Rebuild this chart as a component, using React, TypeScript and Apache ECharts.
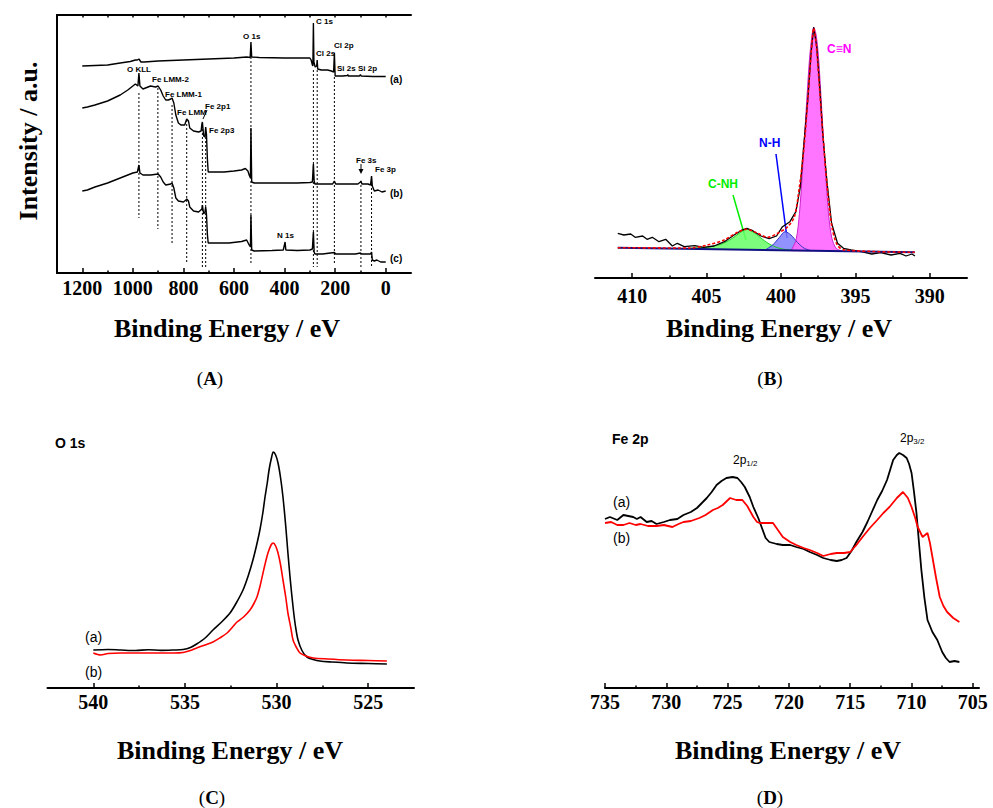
import React, { useEffect, useRef } from "react";
import * as echarts from "echarts";

// ---------- Panel A: survey spectra ----------
const surveyCurveA: number[][] = [
  [1200, 207], [1150, 207.5], [1100, 208], [1050, 210], [1010, 211.5], [990, 213], [982, 213],
  [976, 214], [968, 211], [955, 211], [900, 212], [800, 213], [700, 214], [600, 215], [550, 216],
  [536, 215.5], [533, 231], [530, 216], [500, 215.5], [400, 215], [300, 215], [295, 213],
  [290, 208], [288, 207], [286, 250], [284, 211], [279, 206], [273, 207], [271, 213], [269, 204],
  [255, 203], [230, 203], [215, 202], [206, 201], [203, 220], [200, 197], [170, 197], [152, 197.5],
  [150, 198.5], [148, 197], [103, 197], [100, 198.5], [97, 197], [50, 196.5], [0, 196.5],
];
const surveyCurveB: number[][] = [
  [1200, 165], [1180, 166], [1150, 168], [1100, 172], [1050, 178], [1020, 183], [1000, 187],
  [990, 189], [980, 187], [976, 200], [972, 187], [960, 184], [950, 185], [930, 187], [910, 186],
  [900, 187], [890, 183], [880, 177], [870, 173], [860, 173], [850, 174], [845, 175], [838, 170],
  [830, 158], [820, 150], [810, 148], [795, 148], [787, 154], [780, 152], [775, 145], [760, 142],
  [740, 141], [730, 142], [727, 149], [725, 151], [720, 137], [715, 136], [712, 146], [709, 139],
  [705, 113], [702, 101], [680, 101], [640, 101], [600, 102], [570, 103], [555, 104.5], [545, 102],
  [540, 98], [535, 95], [533, 145], [530, 91], [520, 90], [450, 90], [350, 90], [300, 90.5],
  [290, 91], [286, 109], [283, 92], [280, 89], [250, 89], [210, 89], [203, 92], [198, 89],
  [150, 89], [110, 89], [100, 91], [98, 92], [94, 89], [70, 89], [60, 88], [56, 97], [53, 87],
  [45, 82], [30, 83], [15, 81], [0, 82],
];
const surveyCurveC: number[][] = [
  [1200, 82], [1180, 83], [1150, 86], [1100, 90], [1050, 95], [1000, 100], [982, 101], [976, 108],
  [972, 100], [960, 98], [930, 98], [900, 99], [890, 96], [880, 91], [870, 88], [850, 89],
  [845, 90], [838, 85], [830, 75], [820, 72], [800, 71], [790, 73], [787, 74], [780, 72],
  [775, 66], [760, 62], [740, 61], [727, 64], [725, 68], [720, 59], [715, 61], [712, 66],
  [709, 59], [705, 38], [702, 30], [680, 30], [620, 30], [570, 31.5], [550, 33], [540, 28],
  [535, 26], [533, 58], [530, 23], [520, 22], [450, 22.5], [405, 23], [398, 31], [395, 23],
  [350, 22.5], [300, 23], [290, 24], [286, 41], [283, 21], [280, 19], [250, 19], [203, 20.5],
  [198, 19], [120, 19], [100, 20], [98, 20], [94, 19], [60, 19], [56, 21], [53, 13], [45, 12],
  [35, 13], [20, 11], [0, 11],
];
// [energy, top intensity, bottom intensity]
const surveyDropLines: number[][] = [
  [976, 180, 55], [901, 185, 44], [845, 168, 28], [787, 153, 10], [725, 148, 6], [712, 140, 6],
  [533, 216, 10], [286, 203, 6], [271, 203, 6], [203, 196, 10], [98, 88, 6], [56, 93, 6],
];
const surveyTicks = [0, 200, 400, 600, 800, 1000, 1200];
const surveyMinorTicks = [100, 300, 500, 700, 900, 1100];
const surveyTopTicks = [0, 100, 200, 300, 400, 500, 600, 700, 800, 900, 1000, 1100, 1200];

// ---------- Panel B: N 1s ----------
const n1sRaw: number[][] = [
  [410.97, 44.7], [410.56, 43], [410.1, 44], [409.8, 40.7], [409.3, 42], [409.0, 38.7],
  [408.65, 40.7], [408.2, 36.3], [407.75, 38.7], [407.3, 32], [406.97, 34.7], [406.5, 31.3],
  [405.8, 32.3], [405.2, 30.7], [404.5, 32], [403.8, 36.3], [403.15, 43], [402.7, 47.3],
  [402.3, 49.7], [401.9, 47.3], [401.35, 42], [400.8, 39.3], [400.3, 42], [399.9, 51.3],
  [399.4, 56.3], [399.0, 66.3], [398.7, 91.3], [398.5, 128], [398.2, 178], [397.98, 224.7],
  [397.8, 250.7], [397.6, 231.3], [397.4, 191.3], [397.2, 144.7], [396.9, 94.7], [396.6, 54.7],
  [396.2, 34.7], [395.8, 29.7], [395.3, 28], [394.6, 26.3], [393.9, 24], [393.3, 25.3],
  [392.6, 23], [392.0, 24.7], [391.6, 22], [391.2, 24], [391.0, 22],
];
const n1sEnvelope: number[][] = [
  [410.97, 30.3], [406.07, 30], [404.94, 33], [403.82, 38], [402.92, 45.7], [402.31, 48.7],
  [401.57, 44.7], [400.9, 40.7], [400.22, 44.7], [399.55, 51.3], [399.1, 61.3], [398.76, 91.3],
  [398.47, 128], [398.2, 178], [397.98, 223], [397.8, 249.7], [397.62, 231.3], [397.42, 191.3],
  [397.19, 144.7], [396.9, 91.3], [396.58, 51.3], [396.22, 33], [395.73, 28], [391.01, 25.7],
];
const n1sBaseline: number[][] = [[410.97, 30.3], [391.01, 25.7]];
const n1sCNH: number[][] = [
  [406.07, 30], [404.94, 31], [404.04, 33.7], [403.37, 38.7], [402.81, 44.7], [402.31, 48.7],
  [401.8, 45.3], [401.24, 38.7], [400.67, 33], [400.0, 29.3], [399.33, 28],
];
const n1sNH: number[][] = [
  [401.0, 28.7], [400.56, 33], [400.1, 40.7], [399.73, 46.3], [399.33, 43], [398.88, 35.3],
  [398.43, 29.7], [397.98, 27.3],
];
const n1sCN: number[][] = [
  [399.33, 27.3], [398.99, 38], [398.76, 64.7], [398.54, 111.3], [398.31, 168], [398.09, 218],
  [397.93, 241.3], [397.8, 250.7], [397.64, 243], [397.48, 221.3], [397.26, 168], [397.03, 111.3],
  [396.81, 64.7], [396.58, 39.7], [396.29, 29.7], [395.84, 26.7],
];
const n1sTicks = [390, 395, 400, 405, 410];
const n1sMinorTicks = [392.5, 397.5, 402.5, 407.5];

// ---------- Panel C: O 1s ----------
const o1sA: number[][] = [
  [540, 38], [539.2, 38.5], [538.5, 38], [537.7, 37.5], [537.0, 38.3], [536.3, 37.6], [535.6, 38],
  [535.1, 38.5], [534.7, 40.5], [534.36, 44], [533.9, 50], [533.47, 58], [533.0, 66], [532.54, 75],
  [532.2, 85], [531.83, 98], [531.55, 112], [531.29, 128], [531.1, 142], [530.91, 158], [530.75, 175],
  [530.63, 191], [530.5, 206], [530.41, 218], [530.28, 230], [530.18, 236], [530.05, 233],
  [529.92, 225], [529.78, 210], [529.65, 191], [529.5, 162], [529.38, 135], [529.25, 108],
  [529.1, 81], [528.97, 62], [528.83, 48], [528.6, 37], [528.34, 31], [528.0, 28.5],
  [527.63, 27], [527.0, 26], [526.16, 25], [525.0, 24.5], [523.98, 24],
];
const o1sB: number[][] = [
  [540, 35], [539.6, 33], [539.2, 34.5], [538.5, 35], [537.5, 35], [536.5, 35], [535.6, 35],
  [535.1, 35.5], [534.7, 37.5], [534.36, 40], [533.9, 43], [533.47, 46], [533.1, 50], [532.7, 55],
  [532.4, 61], [532.16, 66], [531.8, 71], [531.45, 78], [531.25, 84], [531.07, 91], [530.9, 102],
  [530.74, 115], [530.6, 126], [530.47, 135], [530.3, 143], [530.18, 145], [530.05, 142],
  [529.92, 135], [529.78, 123], [529.65, 108], [529.5, 91], [529.38, 75], [529.22, 60],
  [529.1, 48], [528.9, 40], [528.72, 35], [528.4, 32], [528.0, 30], [527.2, 29], [526.16, 28],
  [525.0, 27.5], [523.98, 27],
];
const o1sTicks = [525, 530, 535, 540];
const o1sMinorTicks = [527.5, 532.5, 537.5];

// ---------- Panel D: Fe 2p ----------
const fe2pA: number[][] = [
  [735, 169], [734.6, 171], [734.0, 168], [733.5, 173], [733.1, 172], [732.7, 171], [732.4, 169],
  [732.1, 171], [731.6, 166], [731.2, 167], [730.8, 164], [730.2, 166], [729.7, 168], [729.1, 169],
  [728.6, 173], [728.0, 176], [727.5, 180], [727.1, 185], [726.7, 190], [726.3, 196], [725.9, 203],
  [725.5, 207], [725.1, 210], [724.6, 211], [724.2, 210], [723.9, 206], [723.6, 201], [723.2, 191],
  [722.9, 181], [722.5, 170], [722.2, 160], [721.9, 150], [721.6, 146], [721.0, 144], [720.5, 143],
  [719.9, 143], [719.4, 141], [718.8, 139], [718.3, 136], [717.7, 133], [717.2, 130], [716.6, 128],
  [716.1, 127], [715.7, 128], [715.3, 130], [714.9, 137], [714.5, 146], [714.0, 156], [713.6, 166],
  [713.2, 177], [712.8, 188], [712.4, 197], [712.0, 208], [711.7, 220], [711.5, 228], [711.2, 233],
  [711.0, 235], [710.7, 233], [710.4, 230], [710.2, 224], [710.0, 215], [709.8, 196], [709.6, 175],
  [709.4, 146], [709.2, 118], [708.95, 90], [708.7, 68], [708.3, 56], [707.9, 48], [707.5, 36],
  [707.2, 30], [706.9, 26], [706.5, 27], [706.1, 26],
];
const fe2pB: number[][] = [
  [735, 165], [734.5, 166], [734.0, 163], [733.5, 163], [733.0, 165], [732.5, 163], [732.1, 164],
  [731.5, 162], [730.8, 162], [730.2, 163], [729.5, 161], [729.0, 164], [728.6, 166], [728.0, 167],
  [727.3, 170], [726.8, 173], [726.2, 178], [725.8, 180], [725.4, 183], [724.8, 190], [724.3, 188],
  [723.8, 188], [723.4, 182], [722.9, 171], [722.6, 166], [722.4, 165], [721.8, 165], [721.3, 165],
  [720.9, 158], [720.5, 151], [719.9, 146], [719.4, 143], [718.8, 140], [718.3, 138], [717.7, 135],
  [717.2, 132], [716.6, 134], [716.1, 135], [715.5, 135], [715.0, 136], [714.5, 143], [714.0, 151],
  [713.4, 160], [712.8, 168], [712.3, 175], [711.8, 181], [711.2, 190], [710.7, 196], [710.3, 190],
  [710.0, 181], [709.7, 170], [709.5, 161], [709.1, 151], [708.9, 153], [708.7, 155], [708.5, 145],
  [708.3, 131], [708.0, 110], [707.7, 91], [707.4, 82], [707.1, 76], [706.6, 70], [706.1, 66],
];
const fe2pTicks = [705, 710, 715, 720, 725, 730, 735];
const fe2pMinorTicks = [707.5, 712.5, 717.5, 722.5, 727.5, 732.5];

const SERIF = "Liberation Serif";
const SANS = "Liberation Sans";

function majorAxis(gridIndex: number, min: number, max: number, ticks: number[], margin: number) {
  return {
    type: "value", gridIndex, min, max, inverse: true, position: "bottom",
    axisLine: { show: true, onZero: false, lineStyle: { color: "#000", width: 2 } },
    axisTick: { show: true, inside: true, length: 5, customValues: ticks, lineStyle: { color: "#000", width: 1.5 } },
    axisLabel: {
      show: true, customValues: ticks, margin, color: "#000",
      fontFamily: SERIF, fontWeight: "bold", fontSize: 20,
      formatter: (v: number) => String(v),
    },
    splitLine: { show: false },
  };
}
function minorAxis(gridIndex: number, min: number, max: number, ticks: number[], position = "bottom") {
  return {
    type: "value", gridIndex, min, max, inverse: true, position,
    axisLine: { show: false, onZero: false },
    axisTick: { show: true, inside: true, length: 2.5, customValues: ticks, lineStyle: { color: "#000", width: 1.5 } },
    axisLabel: { show: false },
    splitLine: { show: false },
  };
}
function hiddenY(gridIndex: number) {
  return { type: "value", gridIndex, min: 0, max: 258, show: false, splitLine: { show: false } };
}
function line(data: number[][], xi: number, yi: number, color: string, width: number, extra: any = {}) {
  return {
    type: "line", data, xAxisIndex: xi, yAxisIndex: yi, symbol: "none", silent: true,
    lineStyle: { color, width }, ...extra,
  };
}
function txt(text: string, x: number, y: number, family: string, size: number, weight: string,
  fill = "#000", align = "left", extra: any = {}) {
  return {
    type: "text", x, y, silent: true,
    style: {
      text, fontFamily: family, fontSize: size, fontWeight: weight, fill,
      align, textAlign: align, verticalAlign: "middle", textVerticalAlign: "middle", ...extra,
    },
  };
}

export default function App() {
  const ref = useRef<HTMLDivElement>(null);
  useEffect(() => {
    if (!ref.current) return;
    const chart = echarts.init(ref.current, undefined, { renderer: "svg" });

    const series: any[] = [
      line(surveyCurveA, 0, 0, "#000", 1.4),
      line(surveyCurveB, 0, 0, "#000", 1.4),
      line(surveyCurveC, 0, 0, "#000", 1.4),
      ...surveyDropLines.map((d) =>
        line([[d[0], d[1]], [d[0], d[2]]], 0, 0, "#000", 1, { lineStyle: { color: "#000", width: 1, type: [2, 2] } })
      ),
      line(n1sCNH, 4, 1, "#22cc22", 1, { smooth: 0.3, areaStyle: { color: "#66ff66", opacity: 0.85, origin: 28.5 } }),
      line(n1sNH, 4, 1, "#3333cc", 1, { smooth: 0.3, areaStyle: { color: "#7f7fff", opacity: 0.85, origin: 27.5 } }),
      line(n1sCN, 4, 1, "#cc22cc", 1, { smooth: 0.3, areaStyle: { color: "#ff66ff", opacity: 0.9, origin: 26.8 } }),
      line(n1sRaw, 4, 1, "#000", 1.3),
      line(n1sBaseline, 4, 1, "#101080", 2),
      line(n1sEnvelope, 4, 1, "#ff0000", 1.6, { smooth: 0.3, lineStyle: { color: "#ff0000", width: 1.6, type: [3, 2] } }),
      line(o1sA, 6, 2, "#000", 1.6, { smooth: 0.3 }),
      line(o1sB, 6, 2, "#ff0000", 1.6, { smooth: 0.3 }),
      line(fe2pA, 8, 3, "#000", 1.8),
      line(fe2pB, 8, 3, "#ff0000", 1.8),
    ];

    const a = (t: string, x: number, y: number) => txt(t, x, y, SANS, 8, "bold");
    const richBold = { b: { fontWeight: "bold", fontSize: 19, fontFamily: SERIF } };
    const sub = { s: { fontSize: 8, fontFamily: SANS, padding: [7, 0, 0, 0] } };
    const graphic: any[] = [
      a("O 1s", 243, 36), a("C 1s", 316, 21), a("Cl 2s", 316, 53), a("Cl 2p", 334, 45),
      a("Si 2s", 337, 68), a("Si 2p", 358, 68), a("O KLL", 127, 69), a("Fe LMM-2", 152, 79),
      a("Fe LMM-1", 165, 94), a("Fe LMM", 177, 112), a("Fe 2p1", 205, 106), a("Fe 2p3", 209, 130),
      a("Fe 3s", 356, 160), a("Fe 3p", 375, 169), a("N 1s", 277, 235),
      txt("(a)", 390, 79, SANS, 10, "bold"), txt("(b)", 390, 193, SANS, 10, "bold"),
      txt("(c)", 390, 258, SANS, 10, "bold"),
      { type: "line", silent: true, shape: { x1: 207, y1: 110, x2: 203, y2: 119 }, style: { stroke: "#000", lineWidth: 1 } },
      { type: "line", silent: true, shape: { x1: 361, y1: 164, x2: 361, y2: 170 }, style: { stroke: "#000", lineWidth: 1 } },
      { type: "polygon", silent: true, shape: { points: [[358.5, 169], [363.5, 169], [361, 174]] }, style: { fill: "#000" } },
      { ...txt("Intensity / a.u.", 28, 141, SERIF, 26, "bold", "#000", "center"), rotation: Math.PI / 2 },
      txt("Binding Energy / eV", 227, 328, SERIF, 26, "bold", "#000", "center"),
      txt("({b|A})", 210, 378, SERIF, 19, "normal", "#000", "center", { rich: richBold }),
      txt("C\u2261N", 827, 49, SANS, 12, "bold", "#ff00ff"),
      txt("N-H", 759, 143, SANS, 12, "bold", "#0000ff"),
      txt("C-NH", 708, 184, SANS, 12, "bold", "#00ee00"),
      { type: "line", silent: true, shape: { x1: 776, y1: 154, x2: 787, y2: 238 }, style: { stroke: "#0000ff", lineWidth: 1.5 } },
      { type: "line", silent: true, shape: { x1: 733, y1: 195, x2: 746, y2: 240 }, style: { stroke: "#00ee00", lineWidth: 1.5 } },
      txt("Binding Energy / eV", 779, 328, SERIF, 26, "bold", "#000", "center"),
      txt("({b|B})", 770, 378, SERIF, 19, "normal", "#000", "center", { rich: richBold }),
      txt("O 1s", 55, 443, SANS, 14, "bold"),
      txt("(a)", 85, 637, SANS, 14, "normal"), txt("(b)", 85, 672, SANS, 14, "normal"),
      txt("Binding Energy / eV", 230, 750, SERIF, 26, "bold", "#000", "center"),
      txt("({b|C})", 212, 797, SERIF, 19, "normal", "#000", "center", { rich: richBold }),
      txt("Fe 2p", 612, 439, SANS, 14, "bold"),
      txt("2p{s|1/2}", 733, 460, SANS, 12, "normal", "#000", "left", { rich: sub }),
      txt("2p{s|3/2}", 900, 438, SANS, 12, "normal", "#000", "left", { rich: sub }),
      txt("(a)", 613, 502, SANS, 14, "normal"), txt("(b)", 613, 538, SANS, 14, "normal"),
      txt("Binding Energy / eV", 788, 750, SERIF, 26, "bold", "#000", "center"),
      txt("({b|D})", 770, 797, SERIF, 19, "normal", "#000", "center", { rich: richBold }),
    ];

    chart.setOption({
      animation: false,
      backgroundColor: "#fff",
      textStyle: { fontFamily: SERIF },
      grid: [
        { left: 57, top: 15, width: 354, height: 258 },
        { left: 595, top: 20, width: 372, height: 258 },
        { left: 47.5, top: 430, width: 366.5, height: 258 },
        { left: 605, top: 430, width: 374, height: 258 },
      ],
      xAxis: [
        majorAxis(0, -100, 1300, surveyTicks, 5),
        minorAxis(0, -100, 1300, surveyMinorTicks),
        {
          ...minorAxis(0, -100, 1300, surveyTopTicks, "top"),
          axisLine: { show: true, onZero: false, lineStyle: { color: "#000", width: 2 } },
        },
        { ...minorAxis(0, -100, 1300, [], "top"), show: false },
        majorAxis(1, 387.5, 412.5, n1sTicks, 8),
        minorAxis(1, 387.5, 412.5, n1sMinorTicks),
        majorAxis(2, 522.5, 542.5, o1sTicks, 4),
        minorAxis(2, 522.5, 542.5, o1sMinorTicks),
        majorAxis(3, 704.5, 735, fe2pTicks, 4),
        minorAxis(3, 704.5, 735, fe2pMinorTicks),
      ],
      yAxis: [
        {
          type: "value", gridIndex: 0, min: 0, max: 258, position: "left",
          axisLine: { show: true, onZero: false, lineStyle: { color: "#000", width: 2 } },
          axisTick: { show: false }, axisLabel: { show: false }, splitLine: { show: false },
        },
        hiddenY(1), hiddenY(2), hiddenY(3),
      ],
      series,
      graphic,
    });
    return () => chart.dispose();
  }, []);
  return <div ref={ref} style={{ position: "fixed", left: 0, top: 0, width: 993, height: 808, background: "#fff" }} />;
}
